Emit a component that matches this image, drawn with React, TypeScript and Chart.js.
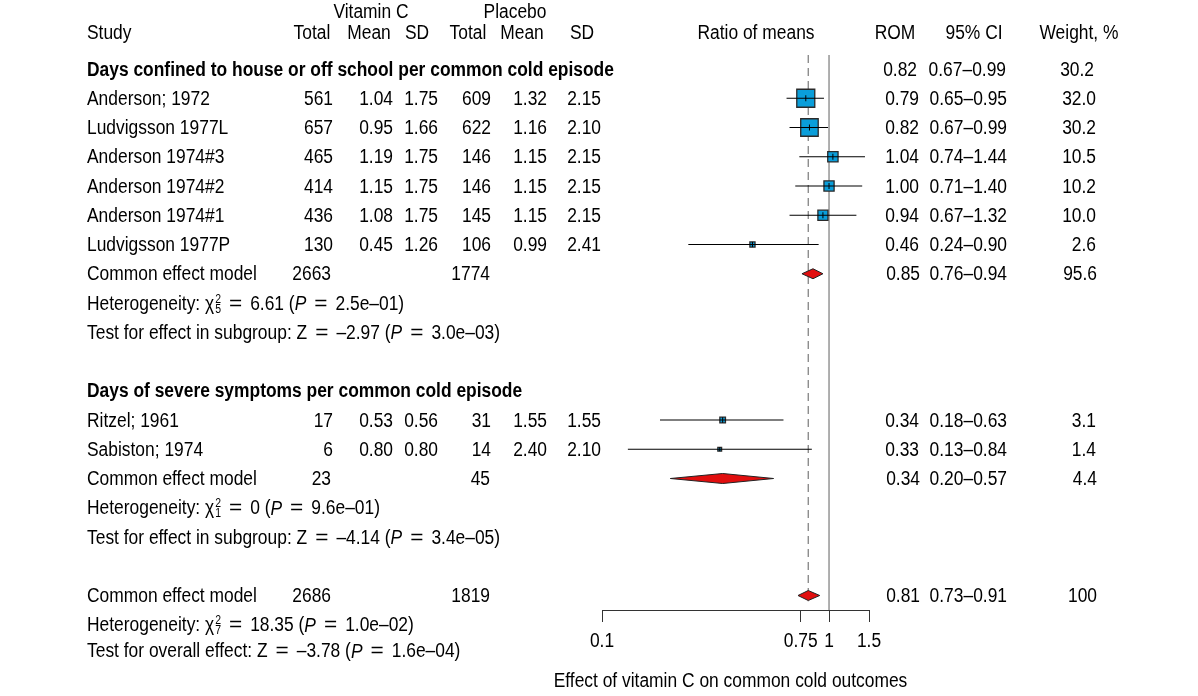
import React, { useEffect, useRef } from "react";
import { Chart, registerables } from "chart.js";

Chart.register(...registerables);

// ---------- study data ----------
const studyNames = [
  "Anderson; 1972",
  "Ludvigsson 1977L",
  "Anderson 1974#3",
  "Anderson 1974#2",
  "Anderson 1974#1",
  "Ludvigsson 1977P",
  "Ritzel; 1961",
  "Sabiston; 1974",
];
const studyRows = [1, 2, 3, 4, 5, 6, 12, 13];
const vitTotal = [561, 657, 465, 414, 436, 130, 17, 6];
const vitMean = [1.04, 0.95, 1.19, 1.15, 1.08, 0.45, 0.53, 0.8];
const vitSD = [1.75, 1.66, 1.75, 1.75, 1.75, 1.26, 0.56, 0.8];
const plaTotal = [609, 622, 146, 146, 145, 106, 31, 14];
const plaMean = [1.32, 1.16, 1.15, 1.15, 1.15, 0.99, 1.55, 2.4];
const plaSD = [2.15, 2.1, 2.15, 2.15, 2.15, 2.41, 1.55, 2.1];
const rom = [0.79, 0.82, 1.04, 1.0, 0.94, 0.46, 0.34, 0.33];
const ciLow = [0.65, 0.67, 0.74, 0.71, 0.67, 0.24, 0.18, 0.13];
const ciHigh = [0.95, 0.99, 1.44, 1.4, 1.32, 0.9, 0.63, 0.84];
const weight = [32.0, 30.2, 10.5, 10.2, 10.0, 2.6, 3.1, 1.4];

// ---------- pooled (common effect) estimates ----------
const summaryRows = [7, 14, 18];
const summaryVitTotal = [2663, 23, 2686];
const summaryPlaTotal = [1774, 45, 1819];
const summaryRom = [0.85, 0.34, 0.81];
const summaryLow = [0.76, 0.2, 0.73];
const summaryHigh = [0.94, 0.57, 0.91];
const summaryWeight = [95.6, 4.4, 100];

// ---------- subgroup headings ----------
const groupTitles = [
  "Days confined to house or off school per common cold episode",
  "Days of severe symptoms per common cold episode",
];
const groupRows = [0, 11];
const groupHeadRom = ["0.82", ""];
const groupHeadCi = ["0.67–0.99", ""];
const groupHeadWeight = ["30.2", ""];

// ---------- heterogeneity and effect tests ----------
const hetRows = [8, 15, 19.0];
const hetDf = ["5", "1", "7"];
const hetChi = ["6.61", "0", "18.35"];
const hetP = ["2.5e–01", "9.6e–01", "1.0e–02"];
const testRows = [9, 16, 19.89];
const testLabels = [
  "Test for effect in subgroup",
  "Test for effect in subgroup",
  "Test for overall effect",
];
const testZ = ["–2.97", "–4.14", "–3.78"];
const testP = ["3.0e–03", "3.4e–05", "1.6e–04"];

// ---------- axis ----------
const axisTicks = [0.1, 0.75, 1, 1.5];
const axisTitle = "Effect of vitamin C on common cold outcomes";
const referenceValue = 1;
const pooledValue = 0.81;

// row geometry: row r sits at 69 + 29.25 r px, axis line at 610 px
const ROW_PX = 29.25;
const ROW_BASE = 69;
const AXIS_Y = 610;
const ROW_MIN = -ROW_BASE / ROW_PX;
const ROW_MAX = (AXIS_Y - ROW_BASE) / ROW_PX;
const LINE_TOP_ROW = -0.48;
const DIAMOND_HALF = 5 / ROW_PX;
const SQUARE_SCALE = 2.25;

const SQUARE_FILL = "#0A9EDA";
const DIAMOND_FILL = "#E10E0E";

function fontAvailable(name: string): boolean {
  const c = document.createElement("canvas").getContext("2d");
  if (!c) return false;
  const sample = "Anderson; 1972 abcdefghijklmnopqrstuvwxyz";
  c.font = `40px monospace`;
  const w0 = c.measureText(sample).width;
  c.font = `40px "${name}", monospace`;
  const w1 = c.measureText(sample).width;
  return Math.abs(w0 - w1) > 0.5;
}

export default function App() {
  const canvasRef = useRef<HTMLCanvasElement | null>(null);

  useEffect(() => {
    const canvas = canvasRef.current;
    if (!canvas) return;

    const narrow = fontAvailable("Liberation Sans Narrow");
    const FAMILY = narrow ? '"Liberation Sans Narrow"' : '"Liberation Sans", Arial, sans-serif';
    const FS = 20;
    const SX = narrow ? 1.06 : 0.87;
    const TEXT_DY = 1.2;

    const txt = (
      ctx: CanvasRenderingContext2D,
      s: string,
      x: number,
      y: number,
      align: CanvasTextAlign = "left",
      opts: { bold?: boolean; italic?: boolean; size?: number; stretch?: number } = {}
    ): number => {
      const sx = SX * (opts.stretch ?? 1);
      ctx.save();
      ctx.font = `${opts.italic ? "italic " : ""}${opts.bold ? "bold " : ""}${opts.size ?? FS}px ${FAMILY}`;
      ctx.fillStyle = "#000";
      ctx.textAlign = align;
      ctx.textBaseline = "middle";
      ctx.translate(x, y + TEXT_DY);
      ctx.scale(sx, 1);
      ctx.fillText(s, 0, 0);
      const w = ctx.measureText(s).width * sx;
      ctx.restore();
      return w;
    };

    // "=" set wider, with math-style spacing
    const EQ_GAP = 8;
    const eq = (ctx: CanvasRenderingContext2D, x: number, y: number): number => {
      const w = txt(ctx, "=", x + EQ_GAP, y, "left", { stretch: 1.3 });
      return w + 2 * EQ_GAP;
    };

    const fmtWeight = (w: number) => (w === 100 ? "100" : w.toFixed(1));

    const tablePlugin = {
      id: "forestTable",
      afterDraw(chart: Chart) {
        const ctx = chart.ctx;
        const ys = chart.scales.y;
        const xs = chart.scales.x;
        const py = (r: number) => ys.getPixelForValue(r);

        // column headers
        const hTop = py(-1.99);
        const hRow = py(-1.24);
        txt(ctx, "Vitamin C", 371, hTop, "center");
        txt(ctx, "Placebo", 515, hTop, "center");
        txt(ctx, "Study", 87, hRow);
        txt(ctx, "Total", 312, hRow, "center");
        txt(ctx, "Mean", 369, hRow, "center");
        txt(ctx, "SD", 417, hRow, "center");
        txt(ctx, "Total", 468, hRow, "center");
        txt(ctx, "Mean", 522, hRow, "center");
        txt(ctx, "SD", 582, hRow, "center");
        txt(ctx, "Ratio of means", 756, hRow, "center");
        txt(ctx, "ROM", 895, hRow, "center");
        txt(ctx, "95% CI", 974, hRow, "center");
        txt(ctx, "Weight, %", 1079, hRow, "center");

        // subgroup headings
        groupTitles.forEach((t, g) => {
          const y = py(groupRows[g]);
          txt(ctx, t, 87, y, "left", { bold: true });
          if (groupHeadRom[g]) {
            txt(ctx, groupHeadRom[g], 917, y, "right");
            txt(ctx, groupHeadCi[g], 1006, y, "right");
            txt(ctx, groupHeadWeight[g], 1094, y, "right");
          }
        });

        // study rows
        studyNames.forEach((name, i) => {
          const y = py(studyRows[i]);
          txt(ctx, name, 87, y);
          txt(ctx, String(vitTotal[i]), 333, y, "right");
          txt(ctx, vitMean[i].toFixed(2), 393, y, "right");
          txt(ctx, vitSD[i].toFixed(2), 438, y, "right");
          txt(ctx, String(plaTotal[i]), 491, y, "right");
          txt(ctx, plaMean[i].toFixed(2), 547, y, "right");
          txt(ctx, plaSD[i].toFixed(2), 601, y, "right");
          txt(ctx, rom[i].toFixed(2), 919, y, "right");
          txt(ctx, `${ciLow[i].toFixed(2)}–${ciHigh[i].toFixed(2)}`, 1007, y, "right");
          txt(ctx, weight[i].toFixed(1), 1096, y, "right");
        });

        // pooled rows
        summaryRows.forEach((r, k) => {
          const y = py(r);
          txt(ctx, "Common effect model", 87, y);
          txt(ctx, String(summaryVitTotal[k]), 331, y, "right");
          txt(ctx, String(summaryPlaTotal[k]), 490, y, "right");
          txt(ctx, summaryRom[k].toFixed(2), 920, y, "right");
          txt(ctx, `${summaryLow[k].toFixed(2)}–${summaryHigh[k].toFixed(2)}`, 1007, y, "right");
          txt(ctx, fmtWeight(summaryWeight[k]), 1097, y, "right");
        });

        // heterogeneity lines with chi-square symbol
        hetRows.forEach((r, k) => {
          const y = py(r);
          let x = 87;
          x += txt(ctx, "Heterogeneity: χ", x, y);
          const wSup = txt(ctx, "2", x + 1, y - 5, "left", { size: 12 });
          const wSub = txt(ctx, hetDf[k], x + 1, y + 5, "left", { size: 12 });
          x += Math.max(wSup, wSub) + 1;
          x += eq(ctx, x, y);
          x += txt(ctx, `${hetChi[k]} (`, x, y);
          x += txt(ctx, "P", x, y, "left", { italic: true });
          x += eq(ctx, x, y);
          txt(ctx, `${hetP[k]})`, x, y);
        });

        // tests for effect
        testRows.forEach((r, k) => {
          const y = py(r);
          let x = 87;
          x += txt(ctx, `${testLabels[k]}: Z`, x, y);
          x += eq(ctx, x, y);
          x += txt(ctx, `${testZ[k]} (`, x, y);
          x += txt(ctx, "P", x, y, "left", { italic: true });
          x += eq(ctx, x, y);
          txt(ctx, `${testP[k]})`, x, y);
        });

        // x-axis tick labels and title, placed from the x scale
        axisTicks.forEach((v) => {
          txt(ctx, String(v), xs.getPixelForValue(v), xs.top + 30, "center");
        });
        txt(ctx, axisTitle, (xs.left + xs.right) / 2 - 5, xs.top + 70, "center");
      },
    };

    const datasets: any[] = [];

    // vertical marks at each study estimate (top layer)
    datasets.push({
      label: "estimate mark",
      data: studyRows.map((r, i) => ({ x: rom[i], y: r })),
      pointStyle: "line",
      rotation: 90,
      pointRadius: weight.map((w) => Math.min(3, 1.6 * Math.sqrt(w))),
      borderColor: "#000",
      borderWidth: 1,
      showLine: false,
      clip: false,
      order: 0,
    });

    // confidence intervals
    studyRows.forEach((r, i) => {
      datasets.push({
        label: `CI ${studyNames[i]}`,
        data: [
          { x: ciLow[i], y: r },
          { x: ciHigh[i], y: r },
        ],
        showLine: true,
        borderColor: "#000",
        borderWidth: 1.1,
        pointRadius: 0,
        clip: false,
        order: 1,
      });
    });

    // weighted squares
    datasets.push({
      label: "Study estimates",
      data: studyRows.map((r, i) => ({ x: rom[i], y: r })),
      pointStyle: "rect",
      pointRadius: weight.map((w) => SQUARE_SCALE * Math.sqrt(w)),
      backgroundColor: SQUARE_FILL,
      borderColor: "#2a2a2a",
      borderWidth: 1.3,
      showLine: false,
      clip: false,
      order: 2,
    });

    // pooled diamonds
    summaryRows.forEach((r, k) => {
      datasets.push({
        label: `Pooled ${k}`,
        data: [
          { x: summaryLow[k], y: r },
          { x: summaryRom[k], y: r - DIAMOND_HALF },
          { x: summaryHigh[k], y: r },
          { x: summaryRom[k], y: r + DIAMOND_HALF },
          { x: summaryLow[k], y: r },
        ],
        showLine: true,
        fill: "shape",
        backgroundColor: DIAMOND_FILL,
        borderColor: "#222",
        borderWidth: 1,
        pointRadius: 0,
        tension: 0,
        clip: false,
        order: 3,
      });
    });

    // line of no effect and pooled-estimate line
    datasets.push({
      label: "no effect",
      data: [
        { x: referenceValue, y: LINE_TOP_ROW },
        { x: referenceValue, y: ROW_MAX },
      ],
      showLine: true,
      borderColor: "#7a7a7a",
      borderWidth: 1.2,
      pointRadius: 0,
      clip: false,
      order: 5,
    });
    datasets.push({
      label: "pooled estimate",
      data: [
        { x: pooledValue, y: LINE_TOP_ROW },
        { x: pooledValue, y: 18.2 },
      ],
      showLine: true,
      borderColor: "#7a7a7a",
      borderWidth: 1.2,
      borderDash: [8, 5],
      pointRadius: 0,
      clip: false,
      order: 6,
    });

    const chart = new Chart(canvas, {
      type: "scatter",
      data: { datasets },
      options: {
        animation: false,
        responsive: false,
        events: [],
        layout: {
          autoPadding: false,
          padding: { left: 602, right: 329, top: 0, bottom: 0 },
        },
        plugins: {
          legend: { display: false },
          tooltip: { enabled: false },
        },
        scales: {
          x: {
            type: "logarithmic",
            position: "bottom",
            min: 0.1,
            max: 1.5,
            afterBuildTicks: (scale: any) => {
              scale.ticks = axisTicks.map((v) => ({ value: v }));
            },
            afterFit: (scale: any) => {
              scale.height = 696 - AXIS_Y;
            },
            ticks: { display: false, autoSkip: false },
            grid: {
              drawOnChartArea: false,
              drawTicks: true,
              tickLength: 12,
              color: "#333",
              lineWidth: 1,
            },
            border: { display: true, color: "#333", width: 1 },
            title: { display: false },
          },
          y: {
            type: "linear",
            display: false,
            reverse: true,
            min: ROW_MIN,
            max: ROW_MAX,
          },
        },
      },
      plugins: [tablePlugin],
    } as any);

    return () => chart.destroy();
  }, []);

  return (
    <div
      style={{
        position: "fixed",
        left: 0,
        top: 0,
        width: 1198,
        height: 696,
        background: "#fff",
      }}
    >
      <canvas ref={canvasRef} width={1198} height={696} style={{ display: "block" }} />
    </div>
  );
}
